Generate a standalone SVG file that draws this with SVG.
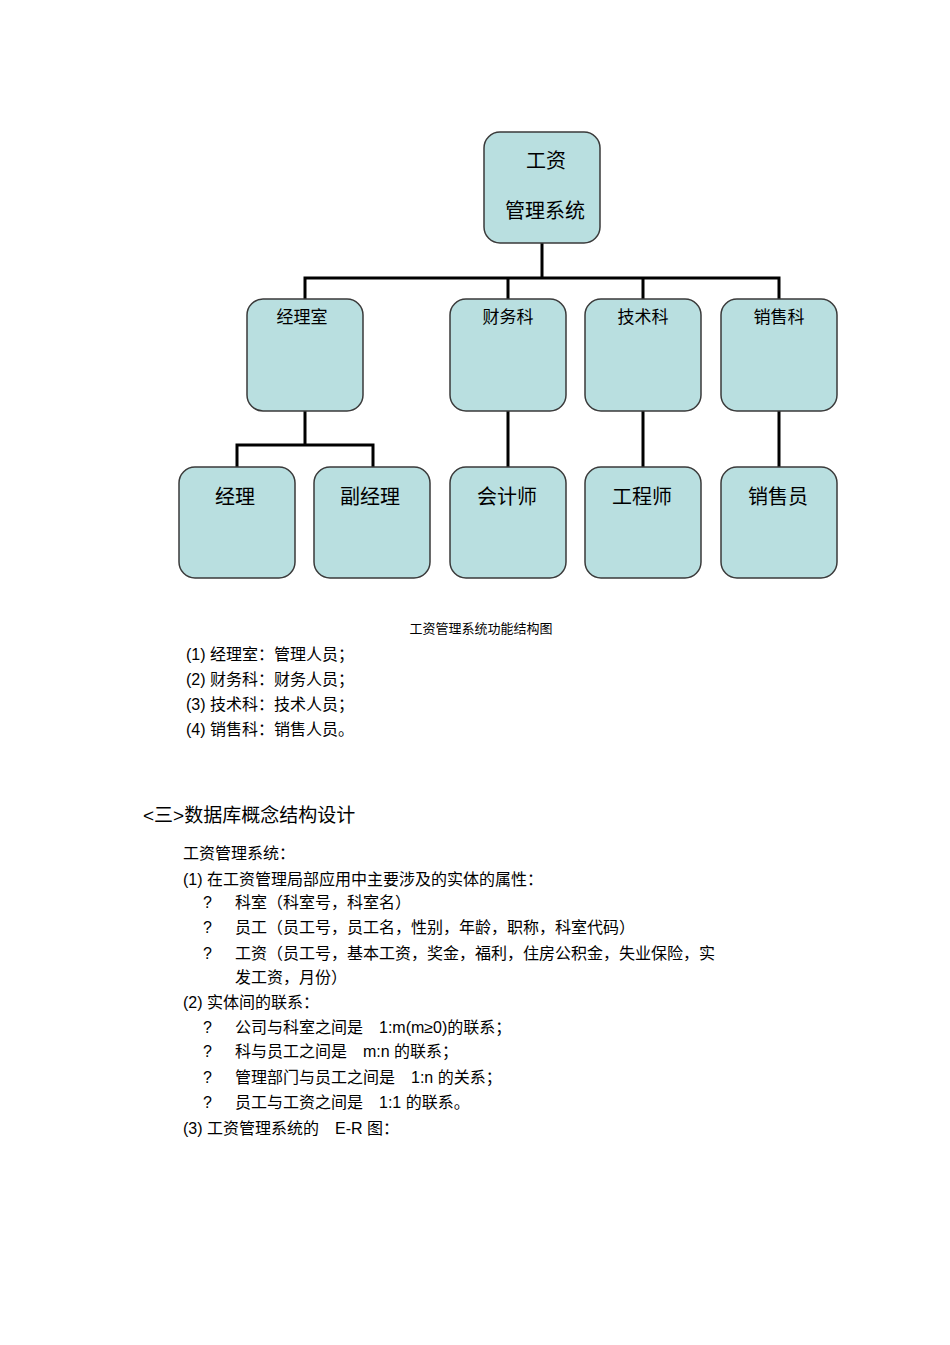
<svg xmlns="http://www.w3.org/2000/svg" width="950" height="1345" viewBox="0 0 950 1345">
<style>
.n{fill:#b9dfe0;stroke:#3a3a3a;stroke-width:1.5}
.c{fill:none;stroke:#000;stroke-width:3}
text{font-family:"Liberation Sans","Noto Sans CJK SC",sans-serif;fill:#000}
.l1{font-size:17px;text-anchor:middle}
.l2{font-size:20px;text-anchor:middle}
.t{font-size:16px}
</style>
<rect width="950" height="1345" fill="#fff"/>
<g id="connectors">
<path class="c" d="M542 243V278M305 299V278H779V299M508 278V299M643 278V299"/>
<path class="c" d="M305 411V445M237 467V445H373V467"/>
<path class="c" d="M508 411V467M643 411V467M779 411V467"/>
</g>
<g id="root"><rect class="n" x="484" y="132" width="116" height="111" rx="16"/><text class="l2" x="546" y="168">工资</text><text class="l2" x="545" y="218">管理系统</text></g>
<g id="jls"><rect class="n" x="247" y="299" width="116" height="112" rx="16"/><text class="l1" x="302" y="323">经理室</text></g>
<g id="cwk"><rect class="n" x="450" y="299" width="116" height="112" rx="16"/><text class="l1" x="508" y="323">财务科</text></g>
<g id="jsk"><rect class="n" x="585" y="299" width="116" height="112" rx="16"/><text class="l1" x="643" y="323">技术科</text></g>
<g id="xsk"><rect class="n" x="721" y="299" width="116" height="112" rx="16"/><text class="l1" x="779" y="323">销售科</text></g>
<g id="jl"><rect class="n" x="179" y="467" width="116" height="111" rx="16"/><text class="l2" x="235" y="504">经理</text></g>
<g id="fjl"><rect class="n" x="314" y="467" width="116" height="111" rx="16"/><text class="l2" x="370" y="504">副经理</text></g>
<g id="kjs"><rect class="n" x="450" y="467" width="116" height="111" rx="16"/><text class="l2" x="507" y="504">会计师</text></g>
<g id="gcs"><rect class="n" x="585" y="467" width="116" height="111" rx="16"/><text class="l2" x="642" y="504">工程师</text></g>
<g id="xsy"><rect class="n" x="721" y="467" width="116" height="111" rx="16"/><text class="l2" x="778" y="504">销售员</text></g>
<text x="481" y="633" font-size="13" text-anchor="middle">工资管理系统功能结构图</text>
<g class="t">
<text class="t" x="186" y="660">(1) 经理室：管理人员；</text>
<text class="t" x="186" y="685">(2) 财务科：财务人员；</text>
<text class="t" x="186" y="710">(3) 技术科：技术人员；</text>
<text class="t" x="186" y="735">(4) 销售科：销售人员。</text>
<text x="143" y="822" font-size="19">&lt;三&gt;数据库概念结构设计</text>
<text class="t" x="183" y="859">工资管理系统：</text>
<text class="t" x="183" y="885">(1) 在工资管理局部应用中主要涉及的实体的属性：</text>
<text class="t" x="203" y="908">?</text><text class="t" x="235" y="908">科室（科室号，科室名）</text>
<text class="t" x="203" y="933">?</text><text class="t" x="235" y="933">员工（员工号，员工名，性别，年龄，职称，科室代码）</text>
<text class="t" x="203" y="959">?</text><text class="t" x="235" y="959">工资（员工号，基本工资，奖金，福利，住房公积金，失业保险，实</text>
<text class="t" x="235" y="983">发工资，月份）</text>
<text class="t" x="183" y="1008">(2) 实体间的联系：</text>
<text class="t" x="203" y="1033">?</text><text class="t" x="235" y="1033">公司与科室之间是　1:m(m≥0)的联系；</text>
<text class="t" x="203" y="1057">?</text><text class="t" x="235" y="1057">科与员工之间是　m:n 的联系；</text>
<text class="t" x="203" y="1083">?</text><text class="t" x="235" y="1083">管理部门与员工之间是　1:n 的关系；</text>
<text class="t" x="203" y="1108">?</text><text class="t" x="235" y="1108">员工与工资之间是　1:1 的联系。</text>
<text class="t" x="183" y="1134">(3) 工资管理系统的　E-R 图：</text>
</g>
</svg>
